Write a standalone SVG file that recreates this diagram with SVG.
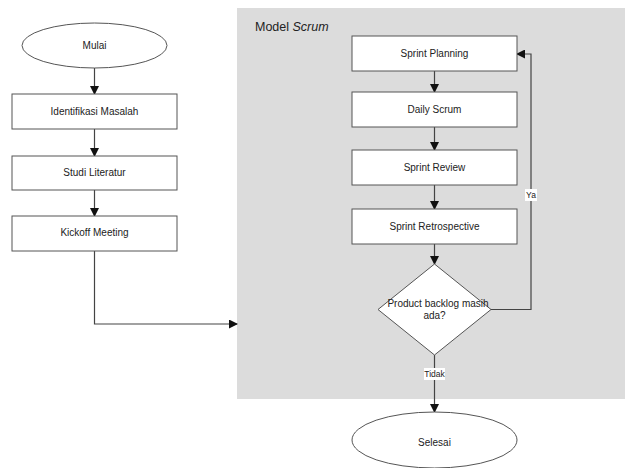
<svg xmlns="http://www.w3.org/2000/svg" width="625" height="468" viewBox="0 0 625 468">
<defs>
<marker id="arr" markerWidth="9" markerHeight="9" refX="8" refY="4.5" orient="auto" markerUnits="userSpaceOnUse">
<path d="M0,0 L9,4.5 L0,9 Z" fill="#111"/>
</marker>
<style>
.box{fill:#fff;stroke:#555;stroke-width:1}
.t{font-family:"Liberation Sans",Arial,sans-serif;font-size:10px;fill:#222;text-anchor:middle}
.lbl{font-family:"Liberation Sans",Arial,sans-serif;font-size:8.5px;fill:#222;text-anchor:middle}
.c{fill:none;stroke:#444;stroke-width:1.2}
</style>
</defs>
<rect width="625" height="468" fill="#fff"/>
<g id="panel">
<rect x="237" y="8" width="388" height="391" fill="#dcdcdc"/>
<text x="255" y="31" font-family="'Liberation Sans',Arial,sans-serif" font-size="12.5" fill="#222">Model <tspan font-style="italic">Scrum</tspan></text>
</g>
<g id="connectors">
<line class="c" x1="94.5" y1="68" x2="94.5" y2="94" marker-end="url(#arr)"/>
<line class="c" x1="94.5" y1="129" x2="94.5" y2="156" marker-end="url(#arr)"/>
<line class="c" x1="94.5" y1="190" x2="94.5" y2="216" marker-end="url(#arr)"/>
<polyline class="c" points="94.5,251 94.5,324 237,324" marker-end="url(#arr)"/>
<line class="c" x1="434.5" y1="71" x2="434.5" y2="92" marker-end="url(#arr)"/>
<line class="c" x1="434.5" y1="127" x2="434.5" y2="150" marker-end="url(#arr)"/>
<line class="c" x1="434.5" y1="185" x2="434.5" y2="209" marker-end="url(#arr)"/>
<line class="c" x1="434.5" y1="244" x2="434.5" y2="264" marker-end="url(#arr)"/>
<polyline class="c" points="491,309.5 531,309.5 531,54 517,54" marker-end="url(#arr)"/>
<line class="c" x1="434.5" y1="355" x2="434.5" y2="412" marker-end="url(#arr)"/>
<rect x="525" y="189" width="12" height="12" fill="#fff"/>
<text class="lbl" x="531" y="198">Ya</text>
<rect x="424" y="368" width="21" height="12" fill="#fff"/>
<text class="lbl" x="434.5" y="377">Tidak</text>
</g>
<g id="mulai">
<ellipse class="box" cx="94.5" cy="45.5" rx="72.5" ry="22.5"/>
<text class="t" x="94.5" y="49">Mulai</text>
</g>
<g id="identifikasi">
<rect class="box" x="12" y="94" width="165" height="35"/>
<text class="t" x="94.5" y="115">Identifikasi Masalah</text>
</g>
<g id="studi">
<rect class="box" x="12" y="156" width="165" height="34"/>
<text class="t" x="94.5" y="176">Studi Literatur</text>
</g>
<g id="kickoff">
<rect class="box" x="12" y="216" width="165" height="35"/>
<text class="t" x="94.5" y="236">Kickoff Meeting</text>
</g>
<g id="planning">
<rect class="box" x="352" y="36" width="165" height="35"/>
<text class="t" x="434.5" y="57">Sprint Planning</text>
</g>
<g id="daily">
<rect class="box" x="352" y="92" width="165" height="35"/>
<text class="t" x="434.5" y="113">Daily Scrum</text>
</g>
<g id="review">
<rect class="box" x="352" y="150" width="165" height="35"/>
<text class="t" x="434.5" y="171">Sprint Review</text>
</g>
<g id="retro">
<rect class="box" x="352" y="209" width="165" height="35"/>
<text class="t" x="434.5" y="230">Sprint Retrospective</text>
</g>
<g id="decision">
<polygon class="box" points="434.5,264 491,309.5 434.5,355 378,309.5"/>
<text class="t" x="438" y="307">Product backlog masih</text>
<text class="t" x="434.5" y="319">ada?</text>
</g>
<g id="selesai">
<ellipse class="box" cx="434.5" cy="440" rx="82.5" ry="28"/>
<text class="t" x="434.5" y="446">Selesai</text>
</g>
</svg>
